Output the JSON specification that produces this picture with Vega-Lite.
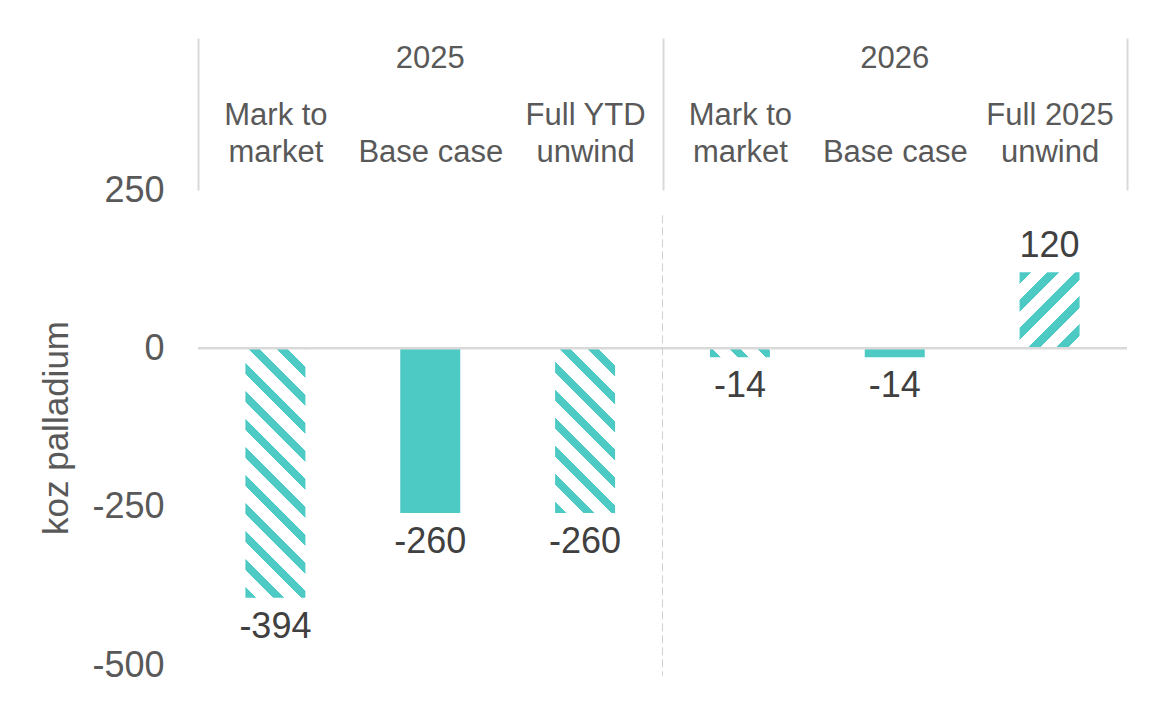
{
  "$schema": "https://vega.github.io/schema/vega-lite/v6.json",
  "autosize": {"type": "none"},
  "padding": {"left": 198, "top": 190, "right": 49, "bottom": 49},
  "width": 929,
  "height": 475,
  "config": {
    "view": {"stroke": null},
    "font": "Liberation Sans",
    "axis": {"grid": false, "domain": false}
  },
  "data": {
    "values": [
      {"key": "2025 Mark to market", "year": "2025", "scenario": "Mark to market", "value": -394},
      {"key": "2025 Base case", "year": "2025", "scenario": "Base case", "value": -260},
      {"key": "2025 Full YTD unwind", "year": "2025", "scenario": "Full YTD unwind", "value": -260},
      {"key": "2026 Mark to market", "year": "2026", "scenario": "Mark to market", "value": -14},
      {"key": "2026 Base case", "year": "2026", "scenario": "Base case", "value": -14},
      {"key": "2026 Full 2025 unwind", "year": "2026", "scenario": "Full 2025 unwind", "value": 120}
    ]
  },
  "resolve": {"scale": {"x": "independent"}, "axis": {"x": "independent"}},
  "layer": [
    {
      "encoding": {
        "x": {
          "field": "key", "type": "nominal", "sort": null,
          "scale": {"domain": ["2025 Mark to market", "2025 Base case", "2025 Full YTD unwind", "2026 Mark to market", "2026 Base case", "2026 Full 2025 unwind"], "paddingInner": 0, "paddingOuter": 0},
          "axis": {
            "orient": "top", "title": null, "domain": false, "labelAngle": 0,
            "ticks": true, "tickBand": "extent", "tickSize": 152, "tickWidth": 2,
            "tickColor": {"condition": {"test": "!datum.value || test(/unwind$/, datum.value)", "value": "#d9d9d9"}, "value": "transparent"},
            "labelPadding": -93, "labelAlign": "center", "labelBaseline": "bottom",
            "labelFontSize": 31, "labelColor": "#595959", "labelLineHeight": 37,
            "labelLimit": 400, "labelOverlap": false, "labelBound": false,
            "labelExpr": "split(replace(replace(replace(datum.label, /^\\d{4} /, ''), / (market|unwind)$/, '|$1'), /^Base case$/, '|Base case'), '|')"
          }
        },
        "y": {
          "field": "value", "type": "quantitative",
          "scale": {"domain": [-500, 250], "nice": false, "zero": false},
          "axis": {
            "values": [-500, -250, 0, 250], "ticks": false, "domain": false, "grid": false,
            "labelFontSize": 36, "labelColor": "#595959", "labelPadding": 34,
            "labelExpr": "'' + datum.value",
            "title": "koz palladium", "titleFontSize": 35, "titleFontWeight": "normal",
            "titleColor": "#595959", "titlePadding": 17
          }
        }
      },
      "layer": [
        {
          "transform": [{"filter": "datum.scenario == 'Base case'"}],
          "mark": {"type": "bar", "width": {"band": 0.3875}, "color": "#4ECAC5"}
        },
        {
          "transform": [{"filter": "datum.key == '2025 Mark to market'"}],
          "mark": {"type": "bar", "width": {"band": 0.3875}, "fill": {
            "gradient": "linear", "x1": 0, "y1": 1, "x2": 0.3062, "y2": -0.2731,
            "stops": [
              {"offset": 0, "color": "#4ECAC5"}, {"offset": 0.0333, "color": "#4ECAC5"}, {"offset": 0.0333, "color": "#ffffff"}, {"offset": 0.0833, "color": "#ffffff"},
              {"offset": 0.0833, "color": "#4ECAC5"}, {"offset": 0.1167, "color": "#4ECAC5"}, {"offset": 0.1167, "color": "#ffffff"}, {"offset": 0.1667, "color": "#ffffff"},
              {"offset": 0.1667, "color": "#4ECAC5"}, {"offset": 0.2, "color": "#4ECAC5"}, {"offset": 0.2, "color": "#ffffff"}, {"offset": 0.25, "color": "#ffffff"},
              {"offset": 0.25, "color": "#4ECAC5"}, {"offset": 0.2833, "color": "#4ECAC5"}, {"offset": 0.2833, "color": "#ffffff"}, {"offset": 0.3333, "color": "#ffffff"},
              {"offset": 0.3333, "color": "#4ECAC5"}, {"offset": 0.3667, "color": "#4ECAC5"}, {"offset": 0.3667, "color": "#ffffff"}, {"offset": 0.4167, "color": "#ffffff"},
              {"offset": 0.4167, "color": "#4ECAC5"}, {"offset": 0.45, "color": "#4ECAC5"}, {"offset": 0.45, "color": "#ffffff"}, {"offset": 0.5, "color": "#ffffff"},
              {"offset": 0.5, "color": "#4ECAC5"}, {"offset": 0.5333, "color": "#4ECAC5"}, {"offset": 0.5333, "color": "#ffffff"}, {"offset": 0.5833, "color": "#ffffff"},
              {"offset": 0.5833, "color": "#4ECAC5"}, {"offset": 0.6167, "color": "#4ECAC5"}, {"offset": 0.6167, "color": "#ffffff"}, {"offset": 0.6667, "color": "#ffffff"},
              {"offset": 0.6667, "color": "#4ECAC5"}, {"offset": 0.7, "color": "#4ECAC5"}, {"offset": 0.7, "color": "#ffffff"}, {"offset": 0.75, "color": "#ffffff"},
              {"offset": 0.75, "color": "#4ECAC5"}, {"offset": 0.7833, "color": "#4ECAC5"}, {"offset": 0.7833, "color": "#ffffff"}, {"offset": 0.8333, "color": "#ffffff"},
              {"offset": 0.8333, "color": "#4ECAC5"}, {"offset": 0.8667, "color": "#4ECAC5"}, {"offset": 0.8667, "color": "#ffffff"}, {"offset": 0.9167, "color": "#ffffff"},
              {"offset": 0.9167, "color": "#4ECAC5"}, {"offset": 0.95, "color": "#4ECAC5"}, {"offset": 0.95, "color": "#ffffff"}, {"offset": 1, "color": "#ffffff"}
            ]
          }}
        },
        {
          "transform": [{"filter": "datum.key == '2025 Full YTD unwind'"}],
          "mark": {"type": "bar", "width": {"band": 0.3875}, "fill": {
            "gradient": "linear", "x1": 0, "y1": 1, "x2": 0.6564, "y2": -0.8013,
            "stops": [
              {"offset": 0, "color": "#4ECAC5"}, {"offset": 0.0333, "color": "#4ECAC5"}, {"offset": 0.0333, "color": "#ffffff"}, {"offset": 0.0833, "color": "#ffffff"},
              {"offset": 0.0833, "color": "#4ECAC5"}, {"offset": 0.1167, "color": "#4ECAC5"}, {"offset": 0.1167, "color": "#ffffff"}, {"offset": 0.1667, "color": "#ffffff"},
              {"offset": 0.1667, "color": "#4ECAC5"}, {"offset": 0.2, "color": "#4ECAC5"}, {"offset": 0.2, "color": "#ffffff"}, {"offset": 0.25, "color": "#ffffff"},
              {"offset": 0.25, "color": "#4ECAC5"}, {"offset": 0.2833, "color": "#4ECAC5"}, {"offset": 0.2833, "color": "#ffffff"}, {"offset": 0.3333, "color": "#ffffff"},
              {"offset": 0.3333, "color": "#4ECAC5"}, {"offset": 0.3667, "color": "#4ECAC5"}, {"offset": 0.3667, "color": "#ffffff"}, {"offset": 0.4167, "color": "#ffffff"},
              {"offset": 0.4167, "color": "#4ECAC5"}, {"offset": 0.45, "color": "#4ECAC5"}, {"offset": 0.45, "color": "#ffffff"}, {"offset": 0.5, "color": "#ffffff"},
              {"offset": 0.5, "color": "#4ECAC5"}, {"offset": 0.5333, "color": "#4ECAC5"}, {"offset": 0.5333, "color": "#ffffff"}, {"offset": 0.5833, "color": "#ffffff"},
              {"offset": 0.5833, "color": "#4ECAC5"}, {"offset": 0.6167, "color": "#4ECAC5"}, {"offset": 0.6167, "color": "#ffffff"}, {"offset": 0.6667, "color": "#ffffff"},
              {"offset": 0.6667, "color": "#4ECAC5"}, {"offset": 0.7, "color": "#4ECAC5"}, {"offset": 0.7, "color": "#ffffff"}, {"offset": 0.75, "color": "#ffffff"},
              {"offset": 0.75, "color": "#4ECAC5"}, {"offset": 0.7833, "color": "#4ECAC5"}, {"offset": 0.7833, "color": "#ffffff"}, {"offset": 0.8333, "color": "#ffffff"},
              {"offset": 0.8333, "color": "#4ECAC5"}, {"offset": 0.8667, "color": "#4ECAC5"}, {"offset": 0.8667, "color": "#ffffff"}, {"offset": 0.9167, "color": "#ffffff"},
              {"offset": 0.9167, "color": "#4ECAC5"}, {"offset": 0.95, "color": "#4ECAC5"}, {"offset": 0.95, "color": "#ffffff"}, {"offset": 1, "color": "#ffffff"}
            ]
          }}
        },
        {
          "transform": [{"filter": "datum.key == '2026 Mark to market'"}],
          "mark": {"type": "bar", "width": {"band": 0.3875}, "fill": {
            "gradient": "linear", "x1": 0, "y1": 1, "x2": 5.480, "y2": 0.190,
            "stops": [
              {"offset": 0, "color": "#4ECAC5"}, {"offset": 0.0333, "color": "#4ECAC5"}, {"offset": 0.0333, "color": "#ffffff"}, {"offset": 0.0833, "color": "#ffffff"},
              {"offset": 0.0833, "color": "#4ECAC5"}, {"offset": 0.1167, "color": "#4ECAC5"}, {"offset": 0.1167, "color": "#ffffff"}, {"offset": 0.1667, "color": "#ffffff"},
              {"offset": 0.1667, "color": "#4ECAC5"}, {"offset": 0.2, "color": "#4ECAC5"}, {"offset": 0.2, "color": "#ffffff"}, {"offset": 0.25, "color": "#ffffff"},
              {"offset": 0.25, "color": "#4ECAC5"}, {"offset": 0.2833, "color": "#4ECAC5"}, {"offset": 0.2833, "color": "#ffffff"}, {"offset": 0.3333, "color": "#ffffff"},
              {"offset": 0.3333, "color": "#4ECAC5"}, {"offset": 0.3667, "color": "#4ECAC5"}, {"offset": 0.3667, "color": "#ffffff"}, {"offset": 0.4167, "color": "#ffffff"},
              {"offset": 0.4167, "color": "#4ECAC5"}, {"offset": 0.45, "color": "#4ECAC5"}, {"offset": 0.45, "color": "#ffffff"}, {"offset": 0.5, "color": "#ffffff"},
              {"offset": 0.5, "color": "#4ECAC5"}, {"offset": 0.5333, "color": "#4ECAC5"}, {"offset": 0.5333, "color": "#ffffff"}, {"offset": 0.5833, "color": "#ffffff"},
              {"offset": 0.5833, "color": "#4ECAC5"}, {"offset": 0.6167, "color": "#4ECAC5"}, {"offset": 0.6167, "color": "#ffffff"}, {"offset": 0.6667, "color": "#ffffff"},
              {"offset": 0.6667, "color": "#4ECAC5"}, {"offset": 0.7, "color": "#4ECAC5"}, {"offset": 0.7, "color": "#ffffff"}, {"offset": 0.75, "color": "#ffffff"},
              {"offset": 0.75, "color": "#4ECAC5"}, {"offset": 0.7833, "color": "#4ECAC5"}, {"offset": 0.7833, "color": "#ffffff"}, {"offset": 0.8333, "color": "#ffffff"},
              {"offset": 0.8333, "color": "#4ECAC5"}, {"offset": 0.8667, "color": "#4ECAC5"}, {"offset": 0.8667, "color": "#ffffff"}, {"offset": 0.9167, "color": "#ffffff"},
              {"offset": 0.9167, "color": "#4ECAC5"}, {"offset": 0.95, "color": "#4ECAC5"}, {"offset": 0.95, "color": "#ffffff"}, {"offset": 1, "color": "#ffffff"}
            ]
          }}
        },
        {
          "transform": [{"filter": "datum.key == '2026 Full 2025 unwind'"}],
          "mark": {"type": "bar", "width": {"band": 0.3875}, "fill": {
            "gradient": "linear", "x1": 0, "y1": 0, "x2": 2.150, "y2": 2.7235,
            "stops": [
              {"offset": 0, "color": "#4ECAC5"}, {"offset": 0.0333, "color": "#4ECAC5"}, {"offset": 0.0333, "color": "#ffffff"}, {"offset": 0.0833, "color": "#ffffff"},
              {"offset": 0.0833, "color": "#4ECAC5"}, {"offset": 0.1167, "color": "#4ECAC5"}, {"offset": 0.1167, "color": "#ffffff"}, {"offset": 0.1667, "color": "#ffffff"},
              {"offset": 0.1667, "color": "#4ECAC5"}, {"offset": 0.2, "color": "#4ECAC5"}, {"offset": 0.2, "color": "#ffffff"}, {"offset": 0.25, "color": "#ffffff"},
              {"offset": 0.25, "color": "#4ECAC5"}, {"offset": 0.2833, "color": "#4ECAC5"}, {"offset": 0.2833, "color": "#ffffff"}, {"offset": 0.3333, "color": "#ffffff"},
              {"offset": 0.3333, "color": "#4ECAC5"}, {"offset": 0.3667, "color": "#4ECAC5"}, {"offset": 0.3667, "color": "#ffffff"}, {"offset": 0.4167, "color": "#ffffff"},
              {"offset": 0.4167, "color": "#4ECAC5"}, {"offset": 0.45, "color": "#4ECAC5"}, {"offset": 0.45, "color": "#ffffff"}, {"offset": 0.5, "color": "#ffffff"},
              {"offset": 0.5, "color": "#4ECAC5"}, {"offset": 0.5333, "color": "#4ECAC5"}, {"offset": 0.5333, "color": "#ffffff"}, {"offset": 0.5833, "color": "#ffffff"},
              {"offset": 0.5833, "color": "#4ECAC5"}, {"offset": 0.6167, "color": "#4ECAC5"}, {"offset": 0.6167, "color": "#ffffff"}, {"offset": 0.6667, "color": "#ffffff"},
              {"offset": 0.6667, "color": "#4ECAC5"}, {"offset": 0.7, "color": "#4ECAC5"}, {"offset": 0.7, "color": "#ffffff"}, {"offset": 0.75, "color": "#ffffff"},
              {"offset": 0.75, "color": "#4ECAC5"}, {"offset": 0.7833, "color": "#4ECAC5"}, {"offset": 0.7833, "color": "#ffffff"}, {"offset": 0.8333, "color": "#ffffff"},
              {"offset": 0.8333, "color": "#4ECAC5"}, {"offset": 0.8667, "color": "#4ECAC5"}, {"offset": 0.8667, "color": "#ffffff"}, {"offset": 0.9167, "color": "#ffffff"},
              {"offset": 0.9167, "color": "#4ECAC5"}, {"offset": 0.95, "color": "#4ECAC5"}, {"offset": 0.95, "color": "#ffffff"}, {"offset": 1, "color": "#ffffff"}
            ]
          }}
        },
        {
          "transform": [{"filter": "datum.value < 0"}],
          "mark": {"type": "text", "baseline": "top", "dy": 12, "fontSize": 36, "color": "#404040"},
          "encoding": {"text": {"field": "value", "type": "nominal"}}
        },
        {
          "transform": [{"filter": "datum.value > 0"}],
          "mark": {"type": "text", "baseline": "alphabetic", "dy": -15, "fontSize": 36, "color": "#404040"},
          "encoding": {"text": {"field": "value", "type": "nominal"}}
        }
      ]
    },
    {
      "data": {"values": [{"line": "zero"}]},
      "mark": {"type": "rule", "color": "#d9d9d9", "strokeWidth": 2.5},
      "encoding": {"y": {"datum": 0, "type": "quantitative"}}
    },
    {
      "data": {"values": [{"year": "2026"}]},
      "mark": {"type": "rule", "color": "#d0d0d0", "strokeWidth": 1, "strokeDash": [8, 4]},
      "encoding": {
        "x": {
          "field": "year", "type": "nominal", "bandPosition": 0,
          "scale": {"domain": ["2025", "2026"], "paddingInner": 0, "paddingOuter": 0},
          "axis": {
            "orient": "top", "title": null, "domain": false, "ticks": false, "labelAngle": 0,
            "labelAlign": "center", "labelBaseline": "bottom",
            "labelPadding": 116, "labelFontSize": 31, "labelColor": "#595959",
            "labelOverlap": false, "labelBound": false
          }
        },
        "y": {"datum": 210, "type": "quantitative"},
        "y2": {"datum": -517}
      }
    }
  ]
}
